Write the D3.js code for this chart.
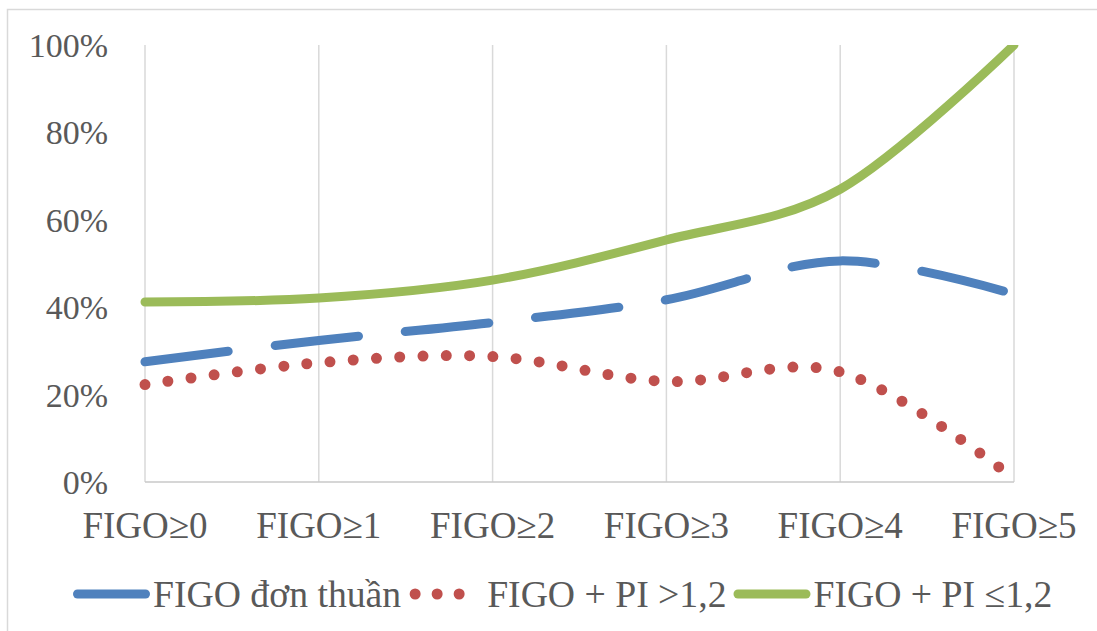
<!DOCTYPE html>
<html>
<head>
<meta charset="utf-8">
<style>
body { margin: 0; background: #fff; }
.tick_label { fill: #595959; font-family: "Liberation Serif", "DejaVu Serif", serif; }
</style>
<script src="https://d3js.org/d3.v7.min.js"></script>
</head>
<body>
<div id="chart"></div>
<script>
// data (percent)
var categories = ["FIGO≥0", "FIGO≥1", "FIGO≥2", "FIGO≥3", "FIGO≥4", "FIGO≥5"];
var seriesNames = ["FIGO đơn thuần", "FIGO + PI >1,2", "FIGO + PI ≤1,2"];
var figoOnly = [27.5, 32.4, 36.5, 41.7, 50.6, 43.0];
var piHigh = [22.3, 27.3, 28.7, 23.0, 25.2, 0.8];
var piLow = [41.2, 42.1, 46.2, 55.4, 67.0, 100];
var yTicks = [0, 20, 40, 60, 80, 100];

var W = 1097, H = 631;
var plot = {left: 145, right: 1014, top: 45, bottom: 482};

var svg = d3.select("#chart").append("svg")
  .attr("width", W).attr("height", H);

// outer chart border
svg.append("rect")
  .attr("x", 7.5).attr("y", 9.5)
  .attr("width", W + 10).attr("height", H + 10)
  .attr("fill", "none").attr("stroke", "#d9d9d9").attr("stroke-width", 1.5);

var x = d3.scalePoint().domain(categories).range([plot.left, plot.right]);
var y = d3.scaleLinear().domain([0, 100]).range([plot.bottom, plot.top]);

// vertical gridlines at the categories
svg.append("g").selectAll("line")
  .data(categories)
  .enter().append("line")
    .attr("x1", function(d) { return x(d); })
    .attr("x2", function(d) { return x(d); })
    .attr("y1", plot.top).attr("y2", plot.bottom)
    .attr("stroke", "#d9d9d9").attr("stroke-width", 1.5);

// bottom axis line
svg.append("line")
  .attr("x1", plot.left).attr("x2", plot.right)
  .attr("y1", plot.bottom).attr("y2", plot.bottom)
  .attr("stroke", "#c8c8c8").attr("stroke-width", 1.5);

// y labels
svg.append("g").selectAll("text")
  .data(yTicks)
  .enter().append("text")
    .attr("class", "tick_label")
    .attr("x", 108)
    .attr("y", function(d) { return y(d) + 12; })
    .attr("text-anchor", "end")
    .style("font-size", "34px")
    .text(function(d) { return d + "%"; });

// x labels
svg.append("g").selectAll("text")
  .data(categories)
  .enter().append("text")
    .attr("class", "tick_label")
    .attr("x", function(d) { return x(d); })
    .attr("y", 538)
    .attr("text-anchor", "middle")
    .style("font-size", "37px")
    .text(function(d) { return d; });

svg.append("clipPath").attr("id", "plotclip")
  .append("rect")
    .attr("x", plot.left - 20).attr("y", plot.top)
    .attr("width", plot.right - plot.left + 40).attr("height", plot.bottom - plot.top + 20);

var series = [
  {name: seriesNames[0], values: figoOnly, color: "#4f81bd", dash: "84,47"},
  {name: seriesNames[1], values: piHigh, color: "#c0504d", dash: "0,23.3", width: 11},
  {name: seriesNames[2], values: piLow, color: "#9bbb59", dash: null}
];

var line = d3.line()
  .x(function(d, i) { return x(categories[i]); })
  .y(function(d) { return y(d); })
  .curve(d3.curveCardinal.tension(0));

var g = svg.append("g").attr("clip-path", "url(#plotclip)");
series.slice().reverse().forEach(function(s) {
  g.append("path")
    .datum(s.values)
    .attr("d", line)
    .attr("fill", "none")
    .attr("stroke", s.color)
    .attr("stroke-width", s.width || 9)
    .attr("stroke-linecap", "round")
    .attr("stroke-dasharray", s.dash);
});

// legend
var legend = svg.append("g");
var lx = 73, ly = 594;
series.forEach(function(s, i) {
  var tx;
  if (i == 1) {
    legend.append("line")
      .attr("x1", lx + 7).attr("x2", lx + 57)
      .attr("y1", ly).attr("y2", ly)
      .attr("stroke", s.color).attr("stroke-width", 11)
      .attr("stroke-linecap", "round").attr("stroke-dasharray", "0,22");
    tx = lx + 79;
  } else {
    legend.append("line")
      .attr("x1", lx + 4.5).attr("x2", lx + 72.5)
      .attr("y1", ly).attr("y2", ly)
      .attr("stroke", s.color).attr("stroke-width", 9)
      .attr("stroke-linecap", "round");
    tx = lx + 80;
  }
  var t = legend.append("text")
    .attr("class", "tick_label")
    .attr("x", tx)
    .attr("y", ly + 13)
    .style("font-size", "37.7px")
    .text(s.name);
  lx = tx + t.node().getComputedTextLength() + 7;
});
</script>
</body>
</html>
